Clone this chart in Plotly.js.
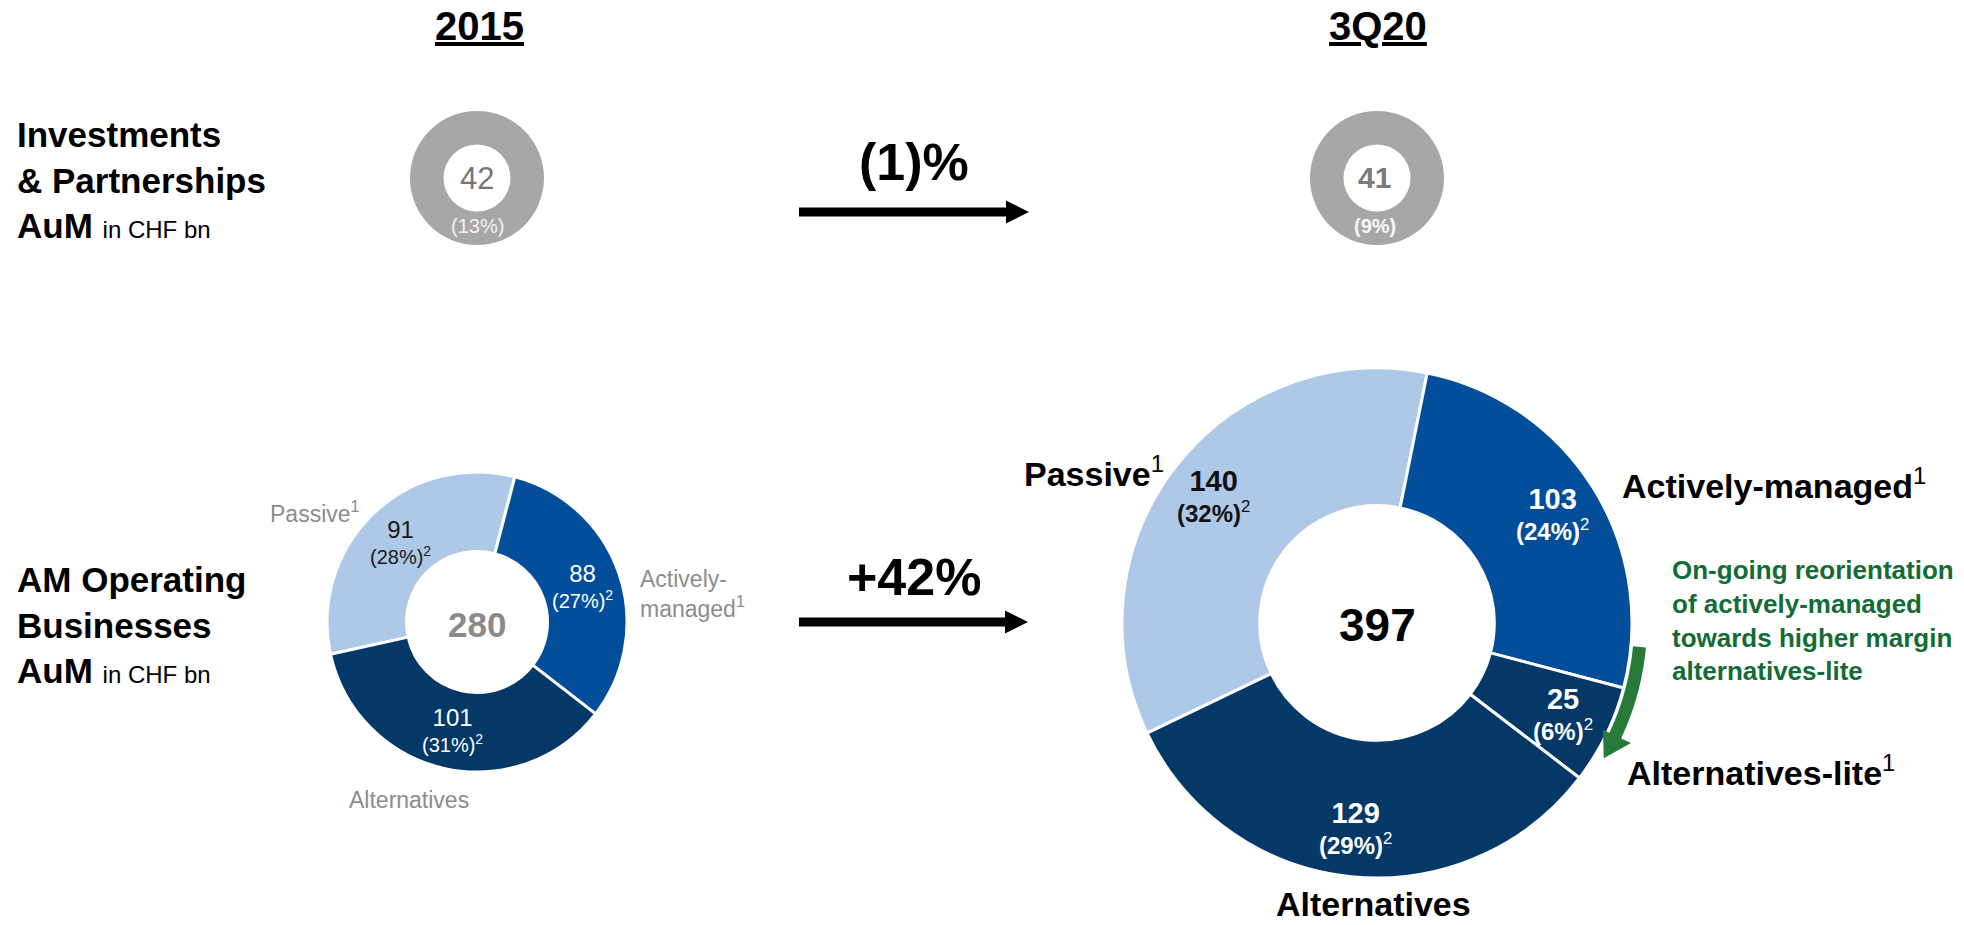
<!DOCTYPE html>
<html>
<head>
<meta charset="utf-8">
<script src="https://cdn.plot.ly/plotly-3.0.1.min.js"></script>
<style>
  html, body { margin: 0; padding: 0; background: #ffffff; }
  #chart { width: 1964px; height: 925px; }
</style>
</head>
<body>
<div id="chart"></div>
<script>
// ---------------- data ----------------
const periods = ['2015', '3Q20'];
const ipValues = [42, 41];                 // Investments & Partnerships AuM, CHF bn
const ipShares = ['13%', '9%'];
const growthLabels = ['(1)%', '+42%'];     // I&P growth, AM operating growth

const categories2015 = ['Passive', 'Actively-managed', 'Alternatives'];
const values2015 = [91, 88, 101];
const shares2015 = ['28%', '27%', '31%'];

const categories3Q20 = ['Passive', 'Actively-managed', 'Alternatives-lite', 'Alternatives'];
const values3Q20 = [140, 103, 25, 129];
const shares3Q20 = ['32%', '24%', '6%', '29%'];

const rowLabels = ['Investments<br>&amp; Partnerships<br>AuM', 'AM Operating<br>Businesses<br>AuM'];
const unitLabel = 'in CHF bn';
const noteText = 'On-going reorientation<br>of actively-managed<br>towards higher margin<br>alternatives-lite';

// ---------------- styles / geometry ----------------
const W = 1964, H = 925;
const FONT = 'Liberation Sans, Arial, Helvetica, sans-serif';
const COLORS = {
  'Passive': '#aec8e8',
  'Actively-managed': '#034e9a',
  'Alternatives-lite': '#043867',
  'Alternatives': '#043867'
};
const GRAY_RING = '#a7a7a7';
const GREEN_TEXT = '#136b36';
const GREEN_ARROW = '#277a38';

const G = {
  ip2015: { cx: 477, cy: 178, r: 67, hole: 0.5 },
  ip3Q20: { cx: 1377, cy: 178, r: 67, hole: 0.5 },
  am2015: { cx: 477, cy: 622, r: 150, hole: 0.47, rotation: 257.6, labelFrac: 0.74 },
  am3Q20: { cx: 1377, cy: 623, r: 255, hole: 0.46, rotation: 244.4, labelFrac: 0.81 }
};

const px = x => x / W;
const py = y => 1 - y / H;
function domainOf(g) {
  return { x: [px(g.cx - g.r), px(g.cx + g.r)], y: [py(g.cy + g.r), py(g.cy - g.r)] };
}
const sum = a => a.reduce((s, v) => s + v, 0);

// ---------------- traces ----------------
const traces = [];
function ringTrace(value, label, g) {
  return {
    type: 'pie', values: [value], labels: [label], domain: domainOf(g),
    hole: g.hole, sort: false, textinfo: 'none', showlegend: false,
    marker: { colors: [GRAY_RING], line: { color: '#ffffff', width: 0 } },
    hoverinfo: 'label+value'
  };
}
traces.push(ringTrace(ipValues[0], 'Investments & Partnerships ' + periods[0], G.ip2015));
traces.push(ringTrace(ipValues[1], 'Investments & Partnerships ' + periods[1], G.ip3Q20));

function amTrace(cats, vals, g) {
  return {
    type: 'pie', values: vals, labels: cats, domain: domainOf(g),
    hole: g.hole, sort: false, direction: 'clockwise', rotation: g.rotation,
    textinfo: 'none', showlegend: false,
    marker: { colors: cats.map(c => COLORS[c]), line: { color: '#ffffff', width: 3 } },
    hoverinfo: 'label+value'
  };
}
traces.push(amTrace(categories2015, values2015, G.am2015));
traces.push(amTrace(categories3Q20, values3Q20, G.am3Q20));

// ---------------- annotations ----------------
const annotations = [];
function ann(text, x, baseline, size, o) {
  o = o || {};
  const lines = o.lines || 1;
  const lh = o.lineH || 1.3 * size;
  const yc = baseline + (lines - 1) * lh / 2 - 0.347 * size;
  annotations.push({
    text: text, x: px(x), y: py(yc), xref: 'paper', yref: 'paper',
    xanchor: o.anchor || 'center', yanchor: 'middle', showarrow: false,
    align: o.align || (o.anchor === 'left' ? 'left' : 'center'),
    font: { family: FONT, size: size, color: o.color || '#000000' }
  });
}
function annC(text, x, yc, size, color) {
  annotations.push({
    text: text, x: px(x), y: py(yc), xref: 'paper', yref: 'paper',
    xanchor: 'center', yanchor: 'middle', showarrow: false, align: 'center',
    font: { family: FONT, size: size, color: color }
  });
}

// column titles
ann('<b><u>' + periods[0] + '</u></b>', 479, 40, 40);
ann('<b><u>' + periods[1] + '</u></b>', 1378, 40, 40);

// row labels
function rowText(t) {
  const parts = t.split('<br>');
  return parts.map(p => '<b>' + p + '</b>').join('<br>') +
    ' <span style="font-size:24px">' + unitLabel + '</span>';
}
ann(rowText(rowLabels[0]), 15, 147, 35, { anchor: 'left', lines: 3 });
ann(rowText(rowLabels[1]), 15, 592, 35, { anchor: 'left', lines: 3 });

// growth labels
ann('<b>' + growthLabels[0] + '</b>', 914, 180, 52);
ann('<b>' + growthLabels[1] + '</b>', 914, 595, 52);

// I&P rings
ann(String(ipValues[0]), G.ip2015.cx, 189, 31, { color: '#777777' });
ann('(' + ipShares[0] + ')', G.ip2015.cx, 233, 20, { color: '#f2f2f2' });
ann('<b>' + ipValues[1] + '</b>', G.ip3Q20.cx - 3, 188, 30, { color: '#7b7b7b' });
ann('<b>(' + ipShares[1] + ')</b>', G.ip3Q20.cx - 2, 233, 20, { color: '#f7f7f7' });

// centre totals
ann('<b>' + sum(values2015) + '</b>', G.am2015.cx, 637, 35, { color: '#8a8a8a' });
ann('<b>' + sum(values3Q20) + '</b>', G.am3Q20.cx, 641, 46, { color: '#000000' });

// slice labels, placed at each slice's mid-angle
function sliceLabels(vals, shares, cats, g, mk) {
  const total = sum(vals);
  let acc = g.rotation;
  vals.forEach((v, i) => {
    const sweep = 360 * v / total;
    const mid = (acc + sweep / 2) * Math.PI / 180;
    acc += sweep;
    const x = g.cx + g.r * g.labelFrac * Math.sin(mid);
    const y = g.cy - g.r * g.labelFrac * Math.cos(mid);
    const m = mk(v, shares[i], cats[i]);
    annC(m.text, x, y, m.size, m.color);
  });
}
sliceLabels(values2015, shares2015, categories2015, G.am2015, (v, s, c) => ({
  text: '<span style="font-size:24px">' + v + '</span><br>(' + s + ')<sup>2</sup>',
  size: 20, color: c === 'Passive' ? '#1a1a1a' : '#ffffff'
}));
sliceLabels(values3Q20, shares3Q20, categories3Q20, G.am3Q20, (v, s, c) => ({
  text: '<b><span style="font-size:29px">' + v + '</span></b><br><b>(' + s + ')</b><sup>2</sup>',
  size: 24, color: c === 'Passive' ? '#111111' : '#ffffff'
}));

// outside category names – 2015 (light grey)
const g15 = '#8c8c8c';
ann(categories2015[0] + '<sup>1</sup>', 268, 520, 23, { anchor: 'left', color: g15 });
ann('Actively-<br>managed<sup>1</sup>', 638, 586, 23, { anchor: 'left', color: g15, lines: 2, lineH: 31 });
ann(categories2015[2], 347, 808, 23, { anchor: 'left', color: g15 });

// outside category names – 3Q20 (black bold)
ann('<b>' + categories3Q20[0] + '</b><sup>1</sup>', 1022, 483, 34, { anchor: 'left' });
ann('<b>' + categories3Q20[1] + '</b><sup>1</sup>', 1620, 495, 34, { anchor: 'left' });
ann('<b>' + categories3Q20[2] + '</b><sup>1</sup>', 1625, 782, 34, { anchor: 'left' });
ann('<b>' + categories3Q20[3] + '</b>', 1373, 916, 34);

// green note
ann('<b>' + noteText + '</b>', 1670, 580, 26, { anchor: 'left', color: GREEN_TEXT, lines: 4, lineH: 33 });

// ---------------- shapes (arrows) ----------------
const P = (x, y) => px(x).toFixed(5) + ',' + py(y).toFixed(5);
function straightArrow(x0, x1, yc) {
  const xh = x1 - 23, t = 4.5, hh = 11.5;
  return 'M' + P(x0, yc - t) + ' L' + P(xh, yc - t) + ' L' + P(xh, yc - hh) + ' L' + P(x1, yc) +
    ' L' + P(xh, yc + hh) + ' L' + P(xh, yc + t) + ' L' + P(x0, yc + t) + ' Z';
}
function arcPt(cx, cy, r, deg) {
  const t = deg * Math.PI / 180;
  return [cx + r * Math.sin(t), cy - r * Math.cos(t)];
}
function arcArrow(cx, cy) {
  const a0 = 95.2, a1 = 115.3, tip = 120.8, rIn = 257, rOut = 270, hIn = 250, hOut = 281, rTip = 264;
  const pts = [];
  for (let k = 0; k <= 20; k++) pts.push(arcPt(cx, cy, rOut, a0 + (a1 - a0) * k / 20));
  pts.push(arcPt(cx, cy, hOut, a1));
  pts.push(arcPt(cx, cy, rTip, tip));
  pts.push(arcPt(cx, cy, hIn, a1));
  for (let k = 20; k >= 0; k--) pts.push(arcPt(cx, cy, rIn, a0 + (a1 - a0) * k / 20));
  return 'M' + pts.map(p => P(p[0], p[1])).join(' L') + ' Z';
}
const shapes = [
  { type: 'path', xref: 'paper', yref: 'paper', path: straightArrow(799, 1029, 212), fillcolor: '#000000', line: { width: 0 } },
  { type: 'path', xref: 'paper', yref: 'paper', path: straightArrow(799, 1028, 622), fillcolor: '#000000', line: { width: 0 } },
  { type: 'path', xref: 'paper', yref: 'paper', path: arcArrow(G.am3Q20.cx, G.am3Q20.cy), fillcolor: GREEN_ARROW, line: { width: 0 } }
];

const layout = {
  width: W, height: H,
  margin: { l: 0, r: 0, t: 0, b: 0, pad: 0 },
  paper_bgcolor: '#ffffff', plot_bgcolor: '#ffffff',
  showlegend: false,
  font: { family: FONT },
  annotations: annotations,
  shapes: shapes
};

Plotly.newPlot('chart', traces, layout, { displayModeBar: false, staticPlot: true });
</script>
</body>
</html>
